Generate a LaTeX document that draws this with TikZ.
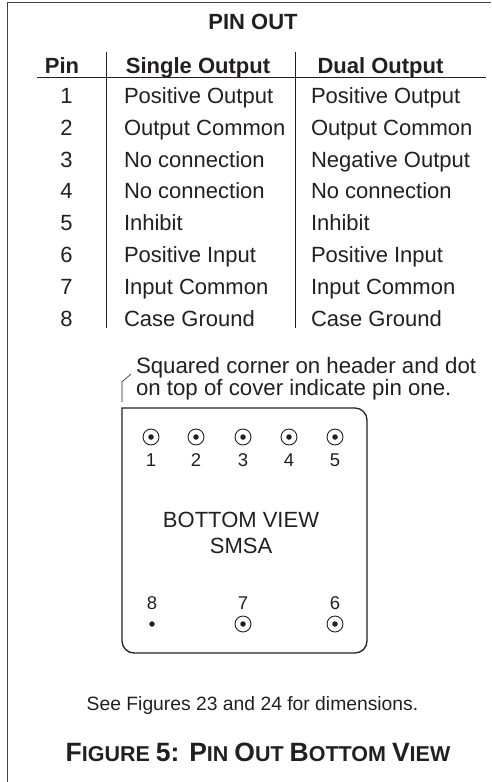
\documentclass[tikz,border=0pt]{standalone}
\usepackage{fontspec}
\setmainfont{Liberation Sans}
\definecolor{ink}{HTML}{231F20}
\newcommand{\fz}[1]{\fontsize{#1}{#1}\selectfont}
\newcommand{\capbig}[1]{{\fz{26.5}#1}}
\tikzset{
  txt/.style={anchor=base,inner sep=0pt,outer sep=0pt,text=ink,font=\fz{22}},
  leftxt/.style={txt,anchor=base west},
  notetxt/.style={leftxt,font=\fz{22.25}},
  hdr/.style={txt,font=\fz{22}\bfseries},
  pinlab/.style={txt,font=\fz{18.5}},
  captxt/.style={txt,font=\fz{21.5}\bfseries},
  rule/.style={draw=ink,line width=0.8pt},
  framel/.style={draw=ink!85,line width=1.2pt},
  pinring/.style={circle,draw=ink,line width=0.9pt,minimum size=16pt,inner sep=0pt},
  pindot/.style={circle,fill=ink,minimum size=5.5pt,inner sep=0pt}
}
\begin{document}
\begin{tikzpicture}[x=1pt,y=-1pt]
\useasboundingbox (0,0) rectangle (491,782);
\coordinate (ftr) at (491,2.5);
\coordinate (ftl) at (7.5,2.5);
\coordinate (fbl) at (7.5,782);
\draw[framel] (ftr) -- (ftl) -- (fbl);
% table
\node[hdr] (title) at (253,29) {PIN OUT};
\node[hdr] (h1) at (62,73) {Pin};
\node[hdr] (h2) at (198,73) {Single Output};
\node[hdr] (h3) at (380.5,73) {Dual Output};
\coordinate (hl) at (37,77.5); \coordinate (hr) at (486,77.5);
\draw[rule] (hl) -- (hr);
\coordinate (v1t) at (106.5,52); \coordinate (v1b) at (106.5,327.5);
\coordinate (v2t) at (295.5,52); \coordinate (v2b) at (295.5,327.5);
\draw[rule] (v1t) -- (v1b);
\draw[rule] (v2t) -- (v2b);
\foreach \n/\y/\a/\b in {1/103/Positive Output/Positive Output,
  2/135/Output Common/Output Common,
  3/167/No connection/Negative Output,
  4/198.7/No connection/No connection,
  5/230.5/Inhibit/Inhibit,
  6/262.3/Positive Input/Positive Input,
  7/294/Input Common/Input Common,
  8/326/Case Ground/Case Ground}{
  \node[txt] (n\n) at (66.5,\y) {\n};
  \node[leftxt] (a\n) at (124,\y) {\a};
  \node[leftxt] (b\n) at (311,\y) {\b};
}
% note
\node[notetxt] (note1) at (136,373) {Squared corner on header and dot};
\node[notetxt] (note2) at (136,395) {on top of cover indicate pin one.};
\coordinate (l1) at (122,402); \coordinate (l2) at (122,382); \coordinate (l3) at (131,374);
\draw[draw=ink,line width=0.6pt] (l1) -- (l2) -- (l3);
% package
\draw[draw=ink,line width=1.3pt] (122,408) -- (355,408)
  .. controls (361.6,408) and (367,413.4) .. (367,420) -- (367,641)
  .. controls (367,647.6) and (361.6,653) .. (355,653) -- (134,653)
  .. controls (127.4,653) and (122,647.6) .. (122,641) -- cycle;
% top pins
\foreach \n/\x in {1/151,2/196,3/243,4/289,5/335}{
  \node[pinring] (r\n) at (\x,437) {};
  \node[pindot] (d\n) at (\x,437) {};
  \node[pinlab] (p\n) at (\x,466) {\n};
}
% bottom pins
\foreach \n/\x in {7/243,6/335}{
  \node[pinring] (r\n) at (\x,624) {};
  \node[pindot] (d\n) at (\x,624) {};
  \node[pinlab] (p\n) at (\x,609) {\n};
}
\node[pinlab] (p8) at (152,609) {8};
\node[pindot] (d8) at (152,624) {};
\node[txt] (bv) at (241,527) {BOTTOM VIEW};
\node[txt] (sm) at (241,553) {SMSA};
\node[txt,font=\fz{19.3}] (see) at (252.5,710) {See Figures 23 and 24 for dimensions.};
\node[captxt] (cap) at (258,761) {\capbig{F}IGURE \capbig{5: P}IN \capbig{O}UT \capbig{B}OTTOM \capbig{V}IEW};
\end{tikzpicture}
\end{document}
